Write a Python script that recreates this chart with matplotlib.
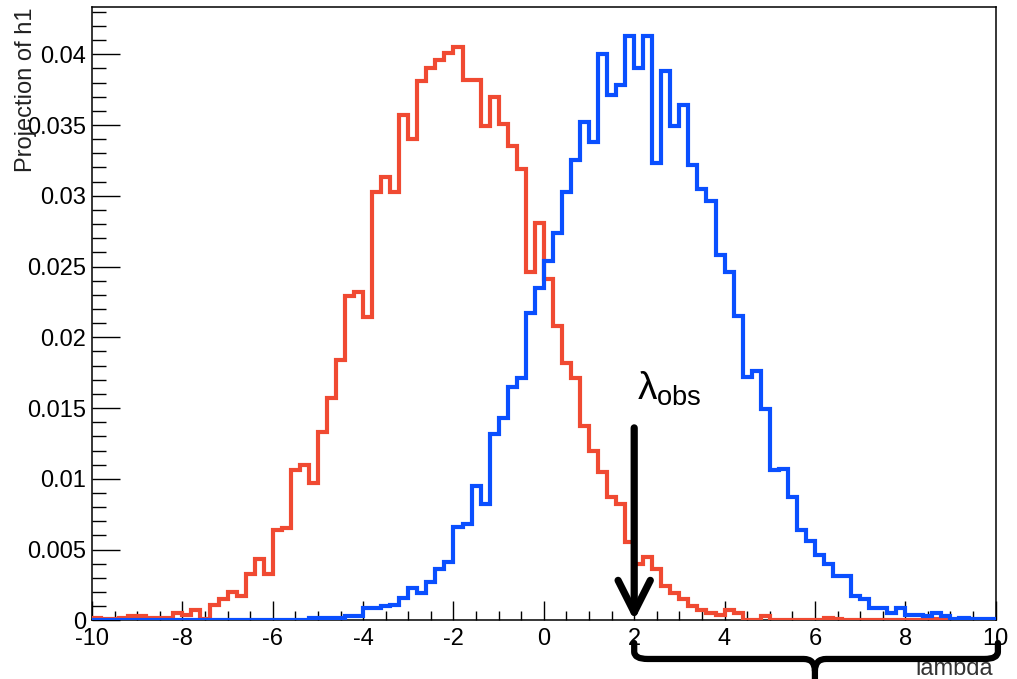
import numpy as np
import matplotlib.pyplot as plt
import matplotlib.transforms as mtransforms
from matplotlib.path import Path
from matplotlib.patches import PathPatch
from matplotlib.ticker import MultipleLocator, FuncFormatter

# Two normalised test-statistic distributions (100 bins from -10 to 10)
X_LO, X_HI, N_BINS = -10, 10, 100

red_vals = [
    0.0002, 0.0001, 0.0001, 0.0002, 0.0003, 0.0003, 0.0002, 0.0002, 0.0002, 0.0005,
    0.0004, 0.0007, 0.0001, 0.0011, 0.0015, 0.0020, 0.0017, 0.0033, 0.0043, 0.0033,
    0.0064, 0.0065, 0.0106, 0.0110, 0.0097, 0.0133, 0.0157, 0.0184, 0.0229, 0.0232,
    0.0214, 0.0303, 0.0313, 0.0303, 0.0357, 0.0340, 0.0381, 0.0390, 0.0396, 0.0401,
    0.0405, 0.0382, 0.0382, 0.0349, 0.0370, 0.0351, 0.0335, 0.0319, 0.0246, 0.0281,
    0.0241, 0.0208, 0.0182, 0.0171, 0.0137, 0.0120, 0.0105, 0.0087, 0.0082, 0.0055,
    0.0040, 0.0045, 0.0036, 0.0024, 0.0019, 0.0015, 0.0010, 0.0007, 0.0005, 0.0004,
    0.0007, 0.0005, 0.0000, 0.0000, 0.0003, 0.0000, 0.0000, 0.0000, 0.0000, 0.0000,
    0.0000, 0.0002, 0.0001, 0.0000, 0.0000, 0.0000, 0.0000, 0.0000, 0.0000, 0.0000,
    0.0000, 0.0000, 0.0001, 0.0001, 0.0000, 0.0000, 0.0000, 0.0000, 0.0000, 0.0000,
]

blue_vals = [
    0.0, 0.0, 0.0, 0.0, 0.0, 0.0, 0.0, 0.0, 0.0, 0.0,
    0.0, 0.0, 0.00005, 0.00005, 0.00005, 0.00005, 0.00005, 0.00005, 0.00005, 0.00005,
    0.00005, 0.00005, 0.00005, 0.00005, 0.00015, 0.00015, 0.00015, 0.00015, 0.00028, 0.00028,
    0.00085, 0.0009, 0.0010, 0.0011, 0.0016, 0.0023, 0.0019, 0.0027, 0.0036, 0.0041,
    0.0066, 0.0068, 0.0095, 0.0082, 0.0132, 0.0143, 0.0165, 0.0171, 0.0217, 0.0235,
    0.0254, 0.0274, 0.0303, 0.0325, 0.0352, 0.0338, 0.0400, 0.0371, 0.0378, 0.0413,
    0.0390, 0.0413, 0.0323, 0.0388, 0.0349, 0.0364, 0.0322, 0.0305, 0.0296, 0.0258,
    0.0246, 0.0215, 0.0172, 0.0176, 0.0149, 0.0106, 0.0107, 0.0087, 0.0064, 0.0056,
    0.0046, 0.0040, 0.0031, 0.0031, 0.0017, 0.0015, 0.00085, 0.00085, 0.0005, 0.00085,
    0.00037, 0.00037, 0.0003, 0.0005, 0.0003, 0.0001, 0.0002, 0.0001, 0.0001, 0.0001,
]

lambda_obs = 2.0
RED = '#f04a32'
BLUE = '#0a4fff'

plt.rcParams['font.family'] = ['Liberation Sans', 'DejaVu Sans']
plt.rcParams['mathtext.fontset'] = 'custom'
plt.rcParams['mathtext.rm'] = 'Liberation Sans'
plt.rcParams['mathtext.it'] = 'Liberation Sans'
plt.rcParams['mathtext.bf'] = 'Liberation Sans:bold'

fig = plt.figure(figsize=(10.17, 6.79), dpi=100)
ax = fig.add_axes([0.0905, 0.0864, 0.8885, 0.9033])

edges = np.linspace(X_LO, X_HI, N_BINS + 1)
ax.stairs(red_vals, edges, color=RED, lw=3, baseline=None, zorder=3)
ax.stairs(blue_vals, edges, color=BLUE, lw=3, baseline=None, zorder=4)

ax.set_xlim(X_LO, X_HI)
ax.set_ylim(0, 0.04334)

# ROOT-like axes: inward ticks on left/bottom only
ax.xaxis.set_major_locator(MultipleLocator(2))
ax.xaxis.set_minor_locator(MultipleLocator(0.5))
ax.yaxis.set_major_locator(MultipleLocator(0.005))
ax.yaxis.set_minor_locator(MultipleLocator(0.001))
ax.yaxis.set_major_formatter(FuncFormatter(lambda v, p: '%g' % round(v, 4)))
ax.xaxis.set_major_formatter(FuncFormatter(lambda v, p: '%g' % v))
ax.tick_params(axis='y', which='major', direction='in', length=20, width=1, pad=4, labelsize=17)
ax.tick_params(axis='y', which='minor', direction='in', length=10, width=1)
ax.tick_params(axis='x', which='major', direction='in', length=13.7, width=1, pad=5.5, labelsize=17)
ax.tick_params(axis='x', which='minor', direction='in', length=6.8, width=1)
for s in ax.spines.values():
    s.set_linewidth(1.1)
    s.set_color('black')

fig.text(26 / 1017, 1 - 7 / 679, 'Projection of h1', rotation=90,
         ha='center', va='top', fontsize=17, color='#222222')

# observed value arrow and label
ax.annotate('', xy=(lambda_obs, 0), xytext=(lambda_obs, 0.0136),
            arrowprops=dict(arrowstyle='->,head_length=1.15,head_width=0.58',
                            lw=5.2, color='black', shrinkA=0, shrinkB=0,
                            mutation_scale=20), zorder=6)
ax.text(lambda_obs + 0.06, 0.01557, r'$\lambda_{\mathrm{obs}}$', fontsize=28,
        ha='left', va='baseline', color='black', zorder=6)

# brace under the axis from lambda_obs to the end
trans = mtransforms.blended_transform_factory(ax.transData, fig.transFigure)
fig.text(9.94, 0.031, 'lambda', transform=trans, ha='right', va='top',
         fontsize=17, color='#333333', zorder=5)

y_top, y_mid, y_bot = 0.053, 0.0295, -0.01
x_mid = (lambda_obs + X_HI) / 2
left = Path([(lambda_obs, y_top), (lambda_obs, 0.040), (lambda_obs, y_mid), (lambda_obs + 0.3, y_mid),
             (x_mid - 0.25, y_mid), (x_mid, y_mid), (x_mid, 0.012), (x_mid, y_bot)],
            [Path.MOVETO, Path.LINETO, Path.CURVE3, Path.CURVE3,
             Path.LINETO, Path.CURVE3, Path.CURVE3, Path.LINETO])
right = Path([(x_mid, 0.012), (x_mid, y_mid), (x_mid + 0.25, y_mid), (X_HI - 0.25, y_mid),
              (X_HI + 0.05, y_mid), (X_HI + 0.05, 0.040), (X_HI + 0.05, y_top)],
             [Path.MOVETO, Path.CURVE3, Path.CURVE3, Path.LINETO,
              Path.CURVE3, Path.CURVE3, Path.LINETO])
for p in (left, right):
    fig.patches.append(PathPatch(p, transform=trans, fill=False, lw=4.5, color='black',
                                 capstyle='round', joinstyle='round', zorder=10))

fig.savefig('out.png', dpi=100)
